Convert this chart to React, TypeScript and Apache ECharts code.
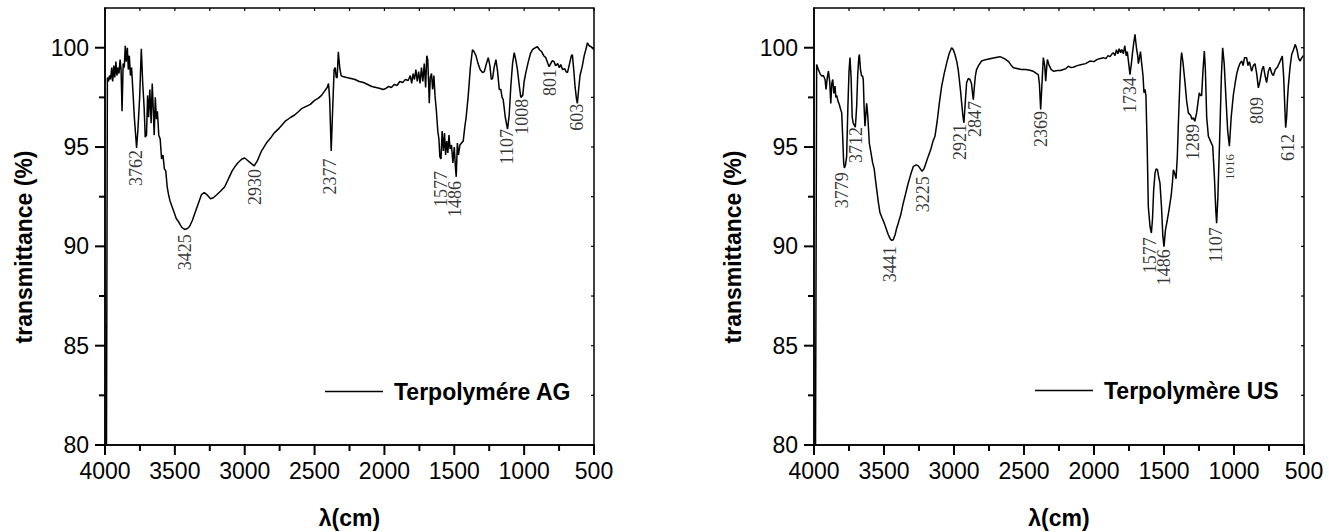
import React, { useEffect, useRef } from 'react';
import * as echarts from 'echarts';

// ---------- Terpolymére AG spectrum ----------
const agWavenumber = [
  3990, 3983, 3975, 3968, 3960, 3952, 3945, 3937, 3930, 3922, 3915, 3908, 3900, 3892, 3885, 3878, 3870, 3862, 3855, 3848,
  3840, 3833, 3826, 3818, 3810, 3800, 3790, 3774, 3765, 3752, 3740, 3730, 3720, 3712, 3703, 3695, 3688, 3679, 3670, 3662,
  3655, 3648, 3640, 3632, 3625, 3615, 3605, 3595, 3585, 3575, 3565, 3555, 3545, 3535, 3520, 3505, 3490, 3470, 3450, 3430,
  3410, 3395, 3375, 3355, 3330, 3310, 3290, 3270, 3245, 3225, 3200, 3170, 3143, 3110, 3090, 3071, 3050, 3020, 3000, 2975,
  2950, 2932, 2910, 2880, 2845, 2815, 2790, 2760, 2735, 2710, 2690, 2670, 2645, 2620, 2590, 2560, 2530, 2500, 2475, 2450,
  2430, 2410, 2400, 2392, 2381, 2370, 2360, 2352, 2345, 2338, 2330, 2320, 2310, 2298, 2270, 2240, 2210, 2180, 2150, 2120,
  2090, 2060, 2030, 2010, 1990, 1970, 1950, 1930, 1910, 1890, 1870, 1850, 1830, 1815, 1805, 1795, 1785, 1775, 1765, 1755,
  1745, 1735, 1725, 1715, 1705, 1697, 1690, 1684, 1679, 1672, 1663, 1655, 1646, 1638, 1628, 1618, 1610, 1603, 1595, 1587,
  1578, 1570, 1562, 1554, 1546, 1538, 1530, 1520, 1510, 1500, 1492, 1486, 1478, 1470, 1460, 1448, 1436, 1425, 1415, 1400,
  1385, 1370, 1358, 1345, 1330, 1315, 1298, 1285, 1270, 1257, 1245, 1235, 1226, 1215, 1202, 1190, 1178, 1167, 1158, 1150,
  1135, 1119, 1107, 1095, 1083, 1071, 1060, 1048, 1035, 1024, 1010, 1000, 988, 970, 955, 940, 920, 905, 890, 875,
  860, 845, 830, 821, 810, 798, 786, 775, 760, 748, 738, 725, 710, 700, 690, 675, 662, 655, 645, 635,
  625, 619, 610, 600, 583, 570, 555, 547, 535, 520, 511, 503,
];
const agTransmittance = [
  78, 98.5, 98.3, 98.6, 98.4, 99.0, 98.3, 99.1, 98.5, 99.3, 98.6, 99.0, 98.7, 99.4, 98.9, 96.8, 99.2, 99.0, 100.1, 99.3,
  100.0, 98.9, 99.6, 98.6, 99.0, 97.8, 96.5, 94.96, 95.8, 97.5, 99.95, 98.2, 97.0, 95.5, 95.6, 97.6, 96.5, 97.9, 96.2, 98.2,
  97.0, 95.6, 97.5, 96.4, 96.8, 95.6, 95.4, 94.4, 94.6, 93.9, 93.8, 93.0, 92.6, 92.3, 92.0, 91.7, 91.4, 91.2, 90.95, 90.85,
  90.9, 91.0, 91.3, 91.7, 92.2, 92.6, 92.7, 92.6, 92.4, 92.45, 92.6, 92.8, 93.0, 93.5, 93.8, 94.0, 94.2, 94.4, 94.45, 94.3,
  94.15, 94.05, 94.3, 94.8, 95.2, 95.45, 95.7, 95.9, 96.1, 96.3, 96.4, 96.5, 96.6, 96.75, 96.95, 97.05, 97.15, 97.35, 97.45, 97.6,
  97.8, 98.0, 98.2, 97.4, 94.8, 97.0, 98.9, 99.0, 98.5, 98.5, 99.8, 99.0, 98.6, 98.55, 98.5, 98.45, 98.4, 98.3, 98.25, 98.15,
  98.05, 98.0, 97.95, 97.9, 97.95, 98.05, 98.0, 98.15, 98.1, 98.3, 98.25, 98.4, 98.35, 98.6, 98.2, 98.7, 98.4, 98.9, 98.3, 98.8,
  98.2, 99.0, 98.3, 99.2, 98.0, 99.6, 99.4, 98.3, 97.2, 98.5, 98.7, 97.9, 98.6, 97.6, 96.8, 95.8, 95.4, 94.5, 94.4, 95.8,
  94.8, 95.7, 94.6, 95.3, 94.7, 95.6, 94.9, 95.1, 94.2, 95.0, 94.0, 93.5, 95.2, 94.6, 95.1, 95.2, 95.3, 96.0, 96.5, 97.6,
  99.0, 99.9, 99.8, 99.6, 99.2, 98.9, 98.75, 98.8, 99.2, 99.5, 99.1, 98.4, 98.45, 99.0, 99.4, 98.8, 97.9, 97.9, 97.5, 97.4,
  96.5, 95.9, 96.6, 98.1, 99.2, 99.75, 99.4, 98.9, 98.1, 97.5, 97.6, 98.3, 98.75, 99.3, 99.7, 99.9, 100.0, 100.05, 99.9, 99.8,
  99.6, 99.5, 99.2, 99.05, 99.2, 99.35, 99.3, 99.1, 99.2, 99.0, 99.15, 98.9, 98.95, 98.8, 98.75, 99.2, 99.6, 99.65, 98.9, 98.0,
  97.4, 97.2, 97.9, 98.6, 99.1, 99.6, 100.0, 100.25, 100.1, 100.05, 100.0, 99.9,
];

// peak labels: text, wavenumber and transmittance where the label ends
const agPeakText = ['3762', '3425', '2930', '2377', '1577', '1486', '1107', '1008', '801', '603'];
const agPeakX = [3777, 3421, 2921, 2386, 1593, 1488, 1121, 1014, 814, 621];
const agPeakY = [94.82, 90.58, 93.87, 94.4, 93.77, 93.27, 95.88, 97.4, 98.9, 97.15];

// ---------- Terpolymère US spectrum ----------
const usWavenumber = [
  3990, 3981, 3969, 3957, 3945, 3933, 3921, 3914, 3905, 3897, 3888, 3880, 3873, 3866, 3858, 3850, 3844, 3838, 3828, 3819,
  3810, 3802, 3795, 3788, 3783, 3775, 3767, 3758, 3750, 3743, 3735, 3727, 3720, 3712, 3705, 3700, 3695, 3688, 3680, 3676,
  3668, 3660, 3654, 3648, 3642, 3636, 3630, 3624, 3616, 3605, 3595, 3581, 3570, 3560, 3552, 3540, 3529, 3515, 3500, 3485,
  3470, 3457, 3445, 3434, 3420, 3410, 3398, 3380, 3365, 3350, 3330, 3310, 3290, 3270, 3255, 3240, 3228, 3215, 3200, 3184,
  3165, 3150, 3136, 3120, 3105, 3088, 3070, 3052, 3035, 3017, 3005, 2993, 2980, 2970, 2962, 2953, 2945, 2937, 2929, 2920,
  2910, 2898, 2886, 2875, 2866, 2862, 2855, 2847, 2839, 2825, 2803, 2775, 2743, 2710, 2671, 2640, 2610, 2590, 2576, 2550,
  2520, 2490, 2457, 2430, 2410, 2398, 2390, 2381, 2373, 2362, 2352, 2345, 2338, 2333, 2320, 2305, 2290, 2260, 2240, 2219,
  2200, 2183, 2165, 2148, 2120, 2088, 2060, 2029, 2000, 1980, 1960, 1933, 1915, 1900, 1885, 1870, 1862, 1850, 1840, 1830,
  1820, 1810, 1802, 1790, 1780, 1770, 1762, 1752, 1743, 1733, 1724, 1715, 1707, 1700, 1695, 1688, 1683, 1675, 1668, 1660,
  1650, 1643, 1636, 1629, 1620, 1612, 1600, 1590, 1582, 1574, 1564, 1556, 1547, 1538, 1529, 1518, 1508, 1500, 1490, 1476,
  1465, 1457, 1448, 1440, 1433, 1425, 1414, 1405, 1398, 1388, 1380, 1374, 1365, 1350, 1338, 1326, 1310, 1300, 1290, 1280,
  1267, 1258, 1248, 1240, 1231, 1222, 1212, 1205, 1195, 1183, 1168, 1152, 1140, 1130, 1124, 1115, 1100, 1090, 1081, 1070,
  1057, 1045, 1033, 1020, 1005, 990, 980, 969, 958, 945, 935, 925, 910, 900, 890, 880, 874, 862, 850, 838,
  826, 815, 800, 790, 778, 767, 755, 743, 730, 719, 705, 690, 672, 655, 645, 637, 631, 624, 618, 612,
  600, 588, 575, 562, 550, 540, 529, 515, 505, 500,
];
const usTransmittance = [
  78, 99.16, 98.9, 98.7, 98.57, 98.6, 98.4, 97.9, 98.5, 98.82, 98.3, 97.2, 98.2, 98.4, 97.7, 98.07, 97.5, 97.6, 97.3, 97.14,
  96.9, 96.72, 95.5, 94.2, 93.95, 94.1, 94.5, 97.0, 98.8, 99.5, 98.5, 96.5, 96.2, 96.1, 96.0, 96.5, 97.1, 98.6, 99.5, 99.66,
  98.9, 98.57, 98.6, 98.4, 97.0, 96.05, 96.6, 97.2, 96.6, 95.2, 94.8, 94.2, 93.9, 93.3, 92.86, 92.2, 91.7, 91.45, 91.2, 90.9,
  90.6, 90.4, 90.3, 90.33, 90.6, 90.9, 91.17, 91.6, 92.1, 92.52, 93.1, 93.6, 94.03, 94.1, 94.05, 93.9, 93.78, 93.9, 94.2, 94.53,
  94.9, 95.3, 95.54, 96.3, 97.2, 98.07, 98.7, 99.24, 99.7, 100.0, 99.9, 99.66, 99.3, 98.9, 98.4, 97.8, 97.2, 96.6, 96.22, 97.2,
  98.24, 98.45, 98.4, 98.2, 97.6, 97.39, 98.0, 98.6, 98.9, 99.1, 99.33, 99.4, 99.45, 99.5, 99.55, 99.45, 99.3, 99.1, 98.99, 98.95,
  98.9, 98.9, 98.87, 98.8, 98.7, 98.65, 98.2, 96.89, 98.0, 99.5, 99.1, 98.32, 99.0, 99.41, 99.1, 98.9, 98.82, 98.85, 98.85, 98.9,
  98.95, 99.07, 99.0, 99.02, 99.1, 99.16, 99.2, 99.33, 99.3, 99.4, 99.45, 99.5, 99.45, 99.6, 99.55, 99.7, 99.75, 99.6, 99.9, 99.7,
  99.95, 99.75, 99.91, 99.7, 100.1, 99.6, 99.8, 99.2, 98.65, 99.2, 99.8, 100.3, 100.67, 100.2, 99.9, 99.6, 99.2, 99.5, 99.8, 99.24,
  98.6, 97.73, 97.9, 97.6, 95.0, 92.0, 91.0, 90.67, 91.4, 92.8, 93.7, 93.9, 93.86, 93.5, 93.2, 92.0, 90.5, 89.99, 90.8, 91.34,
  91.8, 92.18, 92.6, 93.2, 93.86, 93.7, 93.4, 94.5, 96.05, 98.0, 99.3, 99.75, 99.3, 98.24, 97.3, 96.72, 96.6, 96.4, 96.47, 96.3,
  96.72, 97.2, 97.73, 97.6, 97.6, 98.8, 99.83, 99.0, 96.5, 95.54, 95.3, 95.04, 93.5, 91.8, 91.17, 92.5, 96.0, 98.6, 100.0, 99.2,
  97.39, 95.8, 95.04, 96.5, 97.6, 98.3, 98.7, 98.99, 99.2, 99.33, 99.1, 99.5, 99.5, 99.1, 99.3, 99.0, 98.82, 99.1, 99.2, 98.7,
  97.98, 98.3, 98.9, 99.07, 98.6, 98.24, 98.8, 99.02, 98.7, 98.6, 98.9, 99.02, 99.3, 99.58, 98.5, 97.0, 95.97, 96.5, 97.4, 98.07,
  99.0, 99.66, 99.9, 100.17, 99.9, 99.5, 99.33, 99.5, 99.6, 99.6,
];

const usPeakText = ['3779', '3712', '3441', '3225', '2921', '2847', '2369', '1734', '1577', '1486', '1289', '1107', '1016', '809', '612'];
const usPeakX = [3793, 3698, 3452, 3221, 2952, 2845, 2374, 1742, 1597, 1497, 1288, 1124, 1029, 829, 612];
const usPeakY = [93.71, 95.98, 89.98, 93.51, 96.13, 97.29, 96.79, 98.5, 90.43, 89.83, 96.13, 90.94, 94.62, 97.49, 95.63];
const usSmallLabels = ['1016'];

// axis ranges and ticks
const xMin = 500;
const xMax = 4000;
const xStep = 500;
const yMin = 80;
const yMax = 102;
const xMajorTicks = [500, 1000, 1500, 2000, 2500, 3000, 3500, 4000];
const xMinorTicks = [750, 1250, 1750, 2250, 2750, 3250, 3750];
const yMajorTicks = [80, 85, 90, 95, 100];
const yMinorTicks = [82.5, 87.5, 92.5, 97.5];

const seriesNames = ['Terpolymére AG', 'Terpolymère US'];
const yTitle = 'transmittance (%)';
const xTitle = 'λ(cm)';

const SANS = 'Liberation Sans, Arial, Helvetica, sans-serif';
const SERIF = 'Liberation Serif, Times New Roman, serif';
const BLACK = '#000';

function zip(xs: number[], ys: number[]) {
  return xs.map((x, i) => [x, ys[i]]);
}

function peakData(texts: string[], xs: number[], ys: number[], small: string[] = []) {
  return texts.map((t, i) => ({
    name: t,
    value: [xs[i], ys[i]],
    label: small.includes(t) ? { fontSize: 13 } : undefined,
  }));
}

function xAxisFor(grid: number) {
  return {
    gridIndex: grid,
    type: 'value',
    inverse: true,
    min: xMin,
    max: xMax,
    interval: xStep,
    axisLine: { show: true, lineStyle: { color: BLACK, width: 1.5 } },
    axisTick: { show: false },
    minorTick: { show: false },
    axisLabel: { show: true, color: BLACK, fontSize: 23, fontFamily: SANS, margin: 14, formatter: (v: number) => String(v) },
    splitLine: { show: false },
  };
}

function yAxisFor(grid: number) {
  return {
    gridIndex: grid,
    type: 'value',
    min: yMin,
    max: yMax,
    axisLine: { show: true, lineStyle: { color: BLACK, width: 1.5 } },
    axisTick: { show: false },
    axisLabel: { show: true, customValues: yMajorTicks, color: BLACK, fontSize: 23, fontFamily: SANS, margin: 16 },
    splitLine: { show: false },
  };
}

// tick marks drawn through the axes' own scales
function tickSeries(axisIdx: number, values: number[], dir: 'x' | 'y', anchor: number, sign: number, len: number, width: number) {
  return {
    type: 'custom',
    xAxisIndex: axisIdx,
    yAxisIndex: axisIdx,
    silent: true,
    clip: false,
    z: 10,
    data: values.map((v) => (dir === 'x' ? [v, anchor] : [anchor, v])),
    renderItem: (_params: any, api: any) => {
      const p = api.coord([api.value(0), api.value(1)]);
      const x2 = dir === 'y' ? p[0] + sign * len : p[0];
      const y2 = dir === 'x' ? p[1] + sign * len : p[1];
      return {
        type: 'line',
        shape: { x1: p[0], y1: p[1], x2, y2 },
        style: { stroke: BLACK, lineWidth: width, fill: null },
      };
    },
  };
}

function ticksFor(idx: number) {
  return [
    tickSeries(idx, xMajorTicks, 'x', yMin, 1, 10, 2),
    tickSeries(idx, xMinorTicks, 'x', yMin, 1, 6, 2),
    tickSeries(idx, yMajorTicks, 'y', xMax, -1, 10, 2),
    tickSeries(idx, yMinorTicks, 'y', xMax, -1, 6, 2),
    tickSeries(idx, [...xMajorTicks, ...xMinorTicks], 'x', yMax, 1, 3, 1.2),
    tickSeries(idx, [...yMajorTicks, ...yMinorTicks], 'y', xMin, -1, 3, 1.2),
  ];
}

function peakSeries(idx: number, data: any[]) {
  return {
    type: 'scatter',
    xAxisIndex: idx,
    yAxisIndex: idx,
    symbolSize: 1,
    silent: true,
    itemStyle: { color: 'transparent' },
    label: {
      show: true,
      formatter: (p: any) => p.name,
      position: [0, 0],
      rotate: 90,
      align: 'right',
      verticalAlign: 'middle',
      fontFamily: SERIF,
      fontSize: 18,
      color: BLACK,
      textBorderWidth: 0,
    },
    data,
    z: 5,
  };
}

export default function App() {
  const ref = useRef<HTMLDivElement>(null);

  useEffect(() => {
    if (!ref.current) return;
    const chart = echarts.init(ref.current, undefined, { renderer: 'svg' });
    const border = { show: true, borderColor: BLACK, borderWidth: 1.5, backgroundColor: 'transparent' };
    const legendText = { color: BLACK, fontSize: 23, fontWeight: 'bold', fontFamily: SANS, padding: [0, 0, 0, 6] };
    const titleFont = `bold 23px ${SANS}`;
    const option: any = {
      animation: false,
      backgroundColor: '#fff',
      grid: [
        { left: 105, top: 8, width: 489, height: 437, ...border },
        { left: 814, top: 8, width: 490, height: 437, ...border },
      ],
      xAxis: [xAxisFor(0), xAxisFor(1)],
      yAxis: [yAxisFor(0), yAxisFor(1)],
      legend: [
        {
          data: [{ name: seriesNames[0], icon: 'rect' }],
          left: 325,
          top: 380,
          padding: 0,
          itemWidth: 58,
          itemHeight: 1.5,
          textStyle: legendText,
          selectedMode: false,
        },
        {
          data: [{ name: seriesNames[1], icon: 'rect' }],
          left: 1035,
          top: 379,
          padding: 0,
          itemWidth: 58,
          itemHeight: 1.5,
          textStyle: legendText,
          selectedMode: false,
        },
      ],
      series: [
        {
          name: seriesNames[0],
          type: 'line',
          xAxisIndex: 0,
          yAxisIndex: 0,
          data: zip(agWavenumber, agTransmittance),
          showSymbol: false,
          clip: true,
          color: BLACK,
          lineStyle: { color: BLACK, width: 1.5 },
          z: 3,
        },
        peakSeries(0, peakData(agPeakText, agPeakX, agPeakY)),
        ...ticksFor(0),
        {
          name: seriesNames[1],
          type: 'line',
          xAxisIndex: 1,
          yAxisIndex: 1,
          data: zip(usWavenumber, usTransmittance),
          showSymbol: false,
          clip: true,
          color: BLACK,
          lineStyle: { color: BLACK, width: 1.5 },
          z: 3,
        },
        peakSeries(1, peakData(usPeakText, usPeakX, usPeakY, usSmallLabels)),
        ...ticksFor(1),
      ],
      graphic: [
        {
          type: 'text', x: 24, y: 247, rotation: Math.PI / 2,
          style: { text: yTitle, fill: BLACK, font: titleFont, textAlign: 'center', textVerticalAlign: 'middle' },
        },
        {
          type: 'text', x: 733, y: 247, rotation: Math.PI / 2,
          style: { text: yTitle, fill: BLACK, font: titleFont, textAlign: 'center', textVerticalAlign: 'middle' },
        },
        {
          type: 'text', x: 349.5, y: 518,
          style: { text: xTitle, fill: BLACK, font: titleFont, textAlign: 'center', textVerticalAlign: 'middle' },
        },
        {
          type: 'text', x: 1059, y: 518,
          style: { text: xTitle, fill: BLACK, font: titleFont, textAlign: 'center', textVerticalAlign: 'middle' },
        },
      ],
    };
    chart.setOption(option);
    return () => chart.dispose();
  }, []);

  return (
    <div
      ref={ref}
      style={{ position: 'absolute', left: 0, top: 0, width: 1329, height: 532, background: '#fff' }}
    />
  );
}
